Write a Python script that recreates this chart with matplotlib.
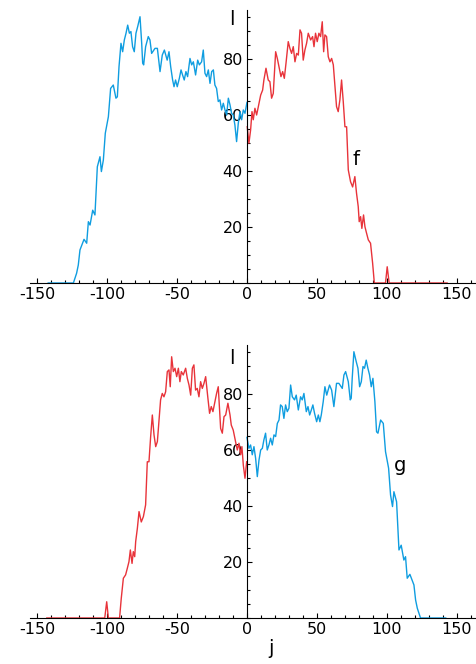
import matplotlib
matplotlib.use("Agg")
import matplotlib.pyplot as plt
from matplotlib.ticker import MultipleLocator, FixedLocator

plt.rcParams['font.family'] = ['DejaVu Sans']
plt.rcParams['axes.unicode_minus'] = False

# blue series (top panel, negative j)
blue_x = [-142, -124, -121.7, -120.5, -119.3, -116.4, -114.5, -113.3, -112.1, -110.2,
          -108.6, -106.9, -105, -104, -102.6, -101.2, -99, -97.4, -95.5, -93.6,
          -92.6, -91.4, -90, -88.8, -87.6, -86.4, -85.2, -84, -82.9, -81.7,
          -80.5, -79.3, -78.1, -76.4, -75.2, -74.5, -73.8, -72.4, -70.5, -69.3,
          -68.1, -65.7, -64, -62.1, -60.5, -59, -58, -57, -55.7, -54.5,
          -53.1, -52.1, -51, -49.8, -48.3, -47.1, -46, -44.8, -43.6, -42.4,
          -40.7, -39.5, -38.3, -36.7, -35.2, -34, -32.4, -31.2, -30, -28.8,
          -27.6, -26.4, -25.2, -24, -22.9, -21.7, -20.5, -19.3, -18.1, -16.9,
          -15.7, -14.5, -13.3, -12.1, -11, -9.8, -8.6, -7.4, -6.2, -5,
          -3.8, -2.6, -1.4, 0]
blue_y = [0, 0, 3.5, 6.4, 11.8, 15.6, 14.2, 21.9, 20.7, 26,
          24.3, 41.5, 45.1, 39.8, 43.9, 53.5, 59.4, 69.5, 70.7, 66,
          66.5, 77.3, 85.6, 82.6, 86.8, 89.2, 92.1, 89.2, 89.8, 84.4,
          82.6, 89.2, 91.5, 95.1, 85.6, 78.5, 77.9, 84.4, 88, 86.8,
          82, 83.8, 83.8, 75.5, 81.4, 83.2, 81.4, 79.6, 82.6, 77.3,
          72.5, 70.1, 72.5, 70.1, 73.1, 76.1, 74.3, 72.5, 75.5, 73.7,
          80.2, 77.9, 79, 74.3, 79.6, 77.9, 79, 83.2, 74.9, 73.7,
          76.1, 71.3, 75.5, 76.1, 70.7, 69.5, 64.8, 65.4, 61.8, 64.2,
          61.8, 60, 66, 63.6, 60.6, 60, 56.4, 50.5, 57, 61.2,
          58.3, 61.8, 60.6, 64.5]

# red series (top panel, positive j)
red_x = [0.2, 1.4, 2.6, 3.6, 4.5, 5.7, 6.9, 8.1, 9.8, 11.2,
         12.1, 13.6, 15.2, 16.4, 17.6, 18.8, 20.5, 21.7, 23.1, 24.3,
         25.5, 26.7, 27.9, 29.5, 30.7, 31.9, 33.1, 34.3, 35.5, 36.7,
         37.9, 39, 40.2, 41.4, 42.6, 43.8, 45.5, 46.9, 47.9, 49,
         50.2, 51.4, 52.6, 53.8, 54.8, 55.7, 56.9, 58.1, 59.3, 60.5,
         61.7, 62.9, 64, 65.2, 66.4, 67.6, 68.8, 70, 71.2, 72.4,
         74, 75.5, 77.1, 78.3, 79.5, 80.2, 81.2, 82.1, 83.3, 84.3,
         85.5, 86.7, 88.3, 89.8, 91, 99, 100.2, 101.6, 143]
red_y = [55.8, 49.9, 54.6, 61.2, 58.3, 62.4, 60, 62.9, 67.1, 68.9,
         72.5, 76.7, 72.5, 71.9, 66, 67.7, 82.6, 80.2, 76.7, 73.7,
         75.5, 73.1, 78.5, 86.2, 83.8, 82, 84.4, 79, 82, 81.4,
         90.4, 89.2, 79.6, 83.2, 85.6, 89.2, 86.8, 88, 84.4, 89.2,
         86.2, 89.2, 88, 93.3, 82.6, 88.6, 88, 80.8, 79, 80.2,
         77.9, 70.1, 63, 61.2, 65.4, 72.5, 64.8, 55.8, 55.8, 40.4,
         36.2, 34.3, 38, 32, 27.3, 21.9, 23.7, 19.5, 24.3, 20.1,
         17.7, 15.4, 14.2, 7, 0, 0, 5.8, 0, 0]

x_ticks = [-150, -100, -50, 0, 50, 100, 150]
y_ticks = [20, 40, 60, 80]

BLUE = '#0f9de0'
RED = '#e8333a'

fig = plt.figure(figsize=(4.77, 6.64), dpi=100)
W, H = 477.0, 664.0


def make_axes(y0_px, top_px):
    left_px, right_px = 30.0, 476.5
    ax = fig.add_axes([left_px / W, 1 - y0_px / H, (right_px - left_px) / W, (y0_px - top_px) / H])
    ax.set_xlim(-155, 164)
    ax.set_ylim(0, 97.5)
    ax.patch.set_alpha(0)
    for s in ['top', 'right']:
        ax.spines[s].set_visible(False)
    ax.spines['left'].set_position(('data', 0))
    ax.spines['bottom'].set_position(('data', 0))
    ax.xaxis.set_major_locator(FixedLocator(x_ticks))
    ax.xaxis.set_minor_locator(MultipleLocator(10))
    ax.yaxis.set_major_locator(FixedLocator(y_ticks))
    ax.yaxis.set_minor_locator(MultipleLocator(5))
    ax.tick_params(which='both', direction='in', labelsize=11.5, width=0.8)
    ax.tick_params(which='major', length=3.5, pad=3)
    ax.tick_params(which='minor', length=2.5)
    return ax


ax1 = make_axes(283, 10)
ax1.plot(blue_x, blue_y, color=BLUE, lw=1.0)
ax1.plot(red_x, red_y, color=RED, lw=1.0)
ax1.text(-10.5, 94, 'l', fontsize=14, ha='center', va='center')
ax1.text(78, 44, 'f', fontsize=14, ha='center', va='center')

ax2 = make_axes(618, 345)
ax2.plot([-v for v in red_x], red_y, color=RED, lw=1.0)
ax2.plot([-v for v in blue_x], blue_y, color=BLUE, lw=1.0)
ax2.text(-10.5, 92.5, 'l', fontsize=14, ha='center', va='center')
ax2.text(109.5, 54.5, 'g', fontsize=14, ha='center', va='center')

fig.text(271 / W, 1 - 649 / H, 'j', fontsize=14, ha='center', va='center')

fig.savefig('out.png', dpi=100)
